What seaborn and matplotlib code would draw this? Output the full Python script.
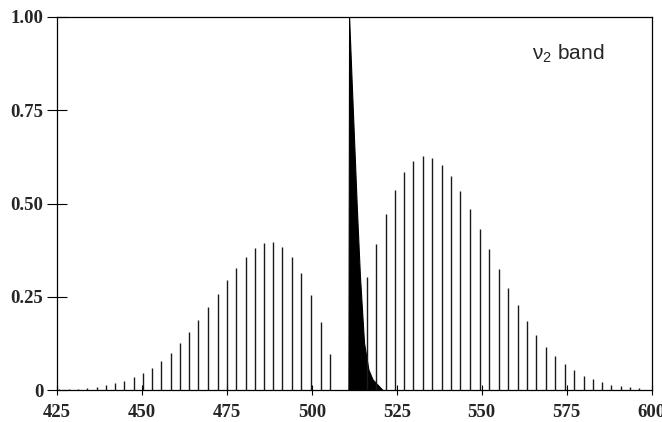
import numpy as np
import pandas as pd
import matplotlib
matplotlib.use('Agg')
import matplotlib.pyplot as plt
import seaborn as sns

# P branch sticks (wavenumber, relative intensity)
p_pos = [425.6, 428.4, 431.1, 433.9, 436.6, 439.4, 442.0, 444.8, 447.5, 450.2,
         453.0, 455.7, 458.4, 461.1, 463.9, 466.6, 469.4, 472.3, 475.0, 477.8,
         480.5, 483.2, 486.0, 488.5, 491.3, 494.1, 496.9, 499.7, 502.6, 505.3]
p_int = [0.003, 0.003, 0.004, 0.006, 0.009, 0.013, 0.019, 0.026, 0.035, 0.046,
         0.060, 0.079, 0.101, 0.127, 0.155, 0.188, 0.222, 0.259, 0.295, 0.328,
         0.357, 0.380, 0.393, 0.396, 0.384, 0.357, 0.315, 0.256, 0.182, 0.098]

# R branch sticks
r_pos = [516.2, 519.0, 521.7, 524.4, 527.1, 529.9, 532.6, 535.3, 538.2, 541.0,
         543.7, 546.6, 549.4, 552.2, 555.1, 557.8, 560.7, 563.4, 566.1, 568.9,
         571.7, 574.4, 577.2, 580.0, 582.7, 585.5, 588.2, 591.0, 593.8, 596.4]
r_int = [0.303, 0.392, 0.471, 0.535, 0.584, 0.613, 0.626, 0.622, 0.604, 0.573,
         0.533, 0.484, 0.432, 0.378, 0.324, 0.274, 0.228, 0.186, 0.148, 0.117,
         0.091, 0.070, 0.054, 0.039, 0.029, 0.021, 0.015, 0.012, 0.009, 0.007]

# Q branch outline (dense pile of lines drawn as a filled wedge)
q_x = [510.9, 511.1, 511.8, 512.6, 513.4, 514.3, 515.5, 516.8, 518.0, 520.9]
q_y = [0.0, 1.0, 0.839, 0.661, 0.483, 0.304, 0.126, 0.054, 0.028, 0.0]

x_ticks = [425, 450, 475, 500, 525, 550, 575, 600]
y_ticks = [0, 0.25, 0.5, 0.75, 1.0]
y_labels = ['0', '0.25', '0.50', '0.75', '1.00']

sticks = pd.DataFrame({'pos': p_pos + r_pos, 'int': p_int + r_int})

sns.set_theme(style='ticks')
plt.rcParams['font.family'] = ['Liberation Serif', 'DejaVu Serif']
plt.rcParams['mathtext.fontset'] = 'custom'
plt.rcParams['mathtext.rm'] = 'Liberation Sans'

fig = plt.figure(figsize=(6.62, 4.22), dpi=100)
ax = fig.add_axes([0.0863, 0.0751, 0.9842 - 0.0863, 0.9604 - 0.0751])

ax.vlines(sticks['pos'], 0, sticks['int'], color='#1a1a1a', linewidth=1.0)
ax.fill(q_x, q_y, color='black', linewidth=0.8)

ax.set_xlim(425, 600)
ax.set_ylim(0, 1.0)
ax.set_xticks(x_ticks)
ax.set_xticklabels([str(t) for t in x_ticks])
ax.set_yticks(y_ticks)
ax.set_yticklabels(y_labels)

for lab in ax.get_xticklabels() + ax.get_yticklabels():
    lab.set_fontweight('bold')
    lab.set_fontsize(13.5)

ax.tick_params(axis='y', direction='inout', length=13.7, width=0.8,
               color='black', pad=3.0)
ax.tick_params(axis='x', direction='inout', length=7.2, width=0.8,
               color='black', pad=6.0)
for s in ax.spines.values():
    s.set_visible(True)
    s.set_linewidth(0.9)
    s.set_color('black')

ax.text(564.9, 0.887, r'$\mathrm{\nu}_2$ band', fontsize=15,
        family=['Liberation Sans', 'DejaVu Sans'], ha='left', va='baseline')

fig.savefig('out.png', dpi=100)
